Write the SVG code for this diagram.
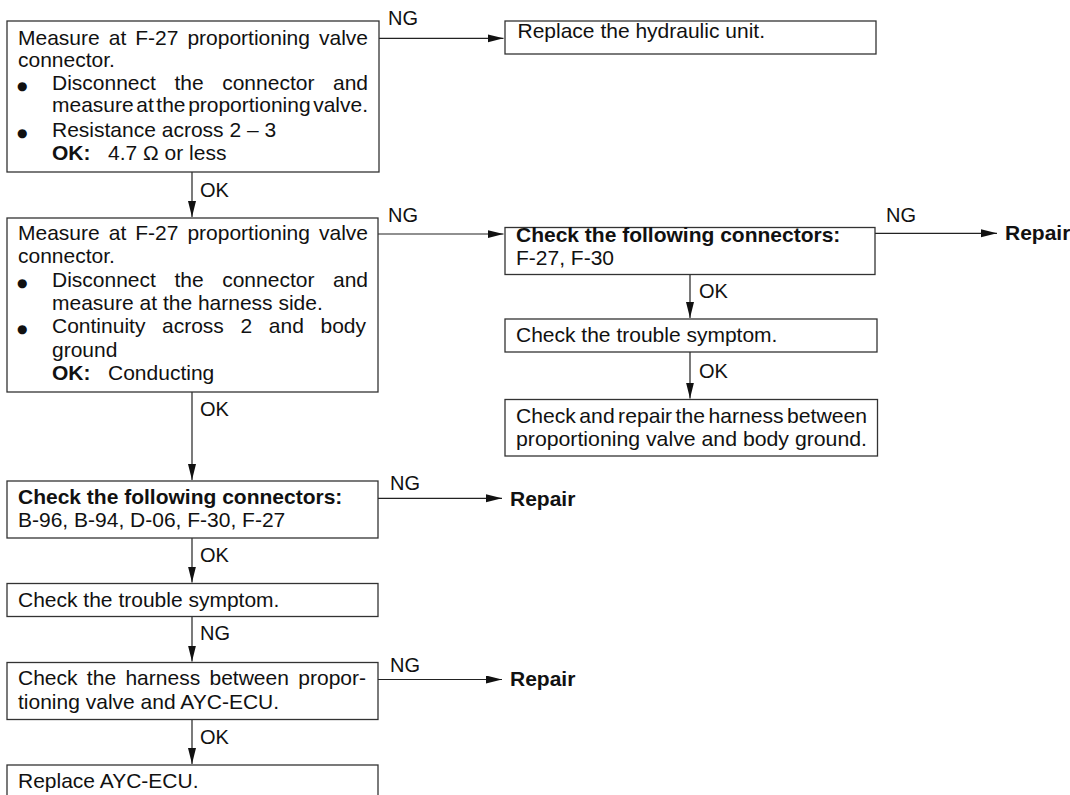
<svg xmlns="http://www.w3.org/2000/svg" width="1070" height="795" viewBox="0 0 1070 795">
<defs>
<marker id="ah" markerUnits="userSpaceOnUse" markerWidth="17" markerHeight="9" refX="16" refY="4" orient="auto"><path d="M0,0 L16,4 L0,8 Z" fill="#111"/></marker>
<style>
.box{fill:#fff;stroke:#333;stroke-width:1.3}
.t{font-family:"Liberation Sans",Arial,Helvetica,sans-serif;font-size:21px;fill:#111}
.b{font-weight:bold}
.lbl{font-family:"Liberation Sans",Arial,Helvetica,sans-serif;font-size:20px;fill:#111}
.bul{font-family:"DejaVu Sans",sans-serif;font-size:12px;fill:#111}
.cn{stroke:#222;stroke-width:1.2;fill:none;marker-end:url(#ah)}
</style>
</defs>
<rect width="1070" height="795" fill="#fff"/>

<g id="connectors">
<path class="cn" d="M379,38.3 H503.5"/>
<path class="cn" d="M192,172 V217"/>
<path class="cn" d="M378,234 H503.5"/>
<path class="cn" d="M875,233.3 H997"/>
<path class="cn" d="M690,274.3 V318"/>
<path class="cn" d="M690,352 V398.5"/>
<path class="cn" d="M192,392 V480"/>
<path class="cn" d="M378,498.3 H502"/>
<path class="cn" d="M192,538 V582.5"/>
<path class="cn" d="M192,617 V661.5"/>
<path class="cn" d="M378,679.5 H502"/>
<path class="cn" d="M192,719.5 V764"/>
<text class="lbl" x="388" y="25">NG</text>
<text class="lbl" x="200" y="197">OK</text>
<text class="lbl" x="388" y="222">NG</text>
<text class="lbl" x="886" y="221.5">NG</text>
<text class="lbl" x="699" y="298">OK</text>
<text class="lbl" x="699" y="378">OK</text>
<text class="lbl" x="200" y="416">OK</text>
<text class="lbl" x="390" y="489.5">NG</text>
<text class="lbl" x="200" y="562">OK</text>
<text class="lbl" x="200" y="640">NG</text>
<text class="lbl" x="390" y="672">NG</text>
<text class="lbl" x="200" y="744">OK</text>
</g>

<g id="n1">
<rect class="box" x="7" y="21" width="372" height="151"/>
<text class="t" x="18" y="44.5" word-spacing="3.2" textLength="350" lengthAdjust="spacing">Measure at F-27 proportioning valve</text>
<text class="t" x="18" y="67">connector.</text>
<text class="bul" x="17" y="89.5">●</text>
<text class="t" x="52" y="89.5" word-spacing="12.7" textLength="316" lengthAdjust="spacing">Disconnect the connector and</text>
<text class="t" x="52" y="112" word-spacing="-3.2" textLength="316" lengthAdjust="spacingAndGlyphs">measure at the proportioning valve.</text>
<text class="bul" x="17" y="136.5">●</text>
<text class="t" x="52" y="136.5">Resistance across 2 – 3</text>
<text class="t" x="52" y="159.5"><tspan class="b">OK:</tspan><tspan x="108">4.7 Ω or less</tspan></text>
</g>

<g id="n2">
<rect class="box" x="505" y="21" width="371" height="33"/>
<text class="t" x="517.5" y="37.5">Replace the hydraulic unit.</text>
</g>

<g id="n3">
<rect class="box" x="7" y="218" width="371" height="174"/>
<text class="t" x="18" y="240" word-spacing="3.2" textLength="350" lengthAdjust="spacing">Measure at F-27 proportioning valve</text>
<text class="t" x="18" y="263.3">connector.</text>
<text class="bul" x="17" y="286.7">●</text>
<text class="t" x="52" y="286.7" word-spacing="12.7" textLength="316" lengthAdjust="spacing">Disconnect the connector and</text>
<text class="t" x="52" y="309.5">measure at the harness side.</text>
<text class="bul" x="17" y="333.3">●</text>
<text class="t" x="52" y="333.3" word-spacing="10.8" textLength="314" lengthAdjust="spacing">Continuity across 2 and body</text>
<text class="t" x="52" y="356.7">ground</text>
<text class="t" x="52" y="380"><tspan class="b">OK:</tspan><tspan x="108">Conducting</tspan></text>
</g>

<g id="n4">
<rect class="box" x="505" y="227.5" width="370" height="47"/>
<text class="t b" x="516" y="241.5">Check the following connectors:</text>
<text class="t" x="516" y="265">F-27, F-30</text>
</g>

<g id="n5">
<text class="t b" x="1005" y="240">Repair</text>
</g>

<g id="n6">
<rect class="box" x="505" y="319" width="372" height="33"/>
<text class="t" x="516" y="342">Check the trouble symptom.</text>
</g>

<g id="n7">
<rect class="box" x="505" y="399.5" width="372.5" height="56.5"/>
<text class="t" x="516" y="423.3" word-spacing="-2.4" textLength="351" lengthAdjust="spacingAndGlyphs">Check and repair the harness between</text>
<text class="t" x="516" y="445.7" textLength="351" lengthAdjust="spacingAndGlyphs">proportioning valve and body ground.</text>
</g>

<g id="n8">
<rect class="box" x="7" y="481" width="371" height="57"/>
<text class="t b" x="18" y="504.3">Check the following connectors:</text>
<text class="t" x="18" y="527">B-96, B-94, D-06, F-30, F-27</text>
</g>

<g id="n9">
<text class="t b" x="510" y="505.5">Repair</text>
</g>

<g id="n10">
<rect class="box" x="7" y="583.5" width="371" height="33"/>
<text class="t" x="18" y="606.7">Check the trouble symptom.</text>
</g>

<g id="n11">
<rect class="box" x="7" y="662.5" width="371" height="57"/>
<text class="t" x="18" y="685" word-spacing="3.5" textLength="348" lengthAdjust="spacing">Check the harness between propor-</text>
<text class="t" x="18" y="708.5">tioning valve and AYC-ECU.</text>
</g>

<g id="n12">
<text class="t b" x="510" y="686">Repair</text>
</g>

<g id="n13">
<rect class="box" x="7" y="765" width="371" height="45"/>
<text class="t" x="18" y="788">Replace AYC-ECU.</text>
</g>
</svg>
